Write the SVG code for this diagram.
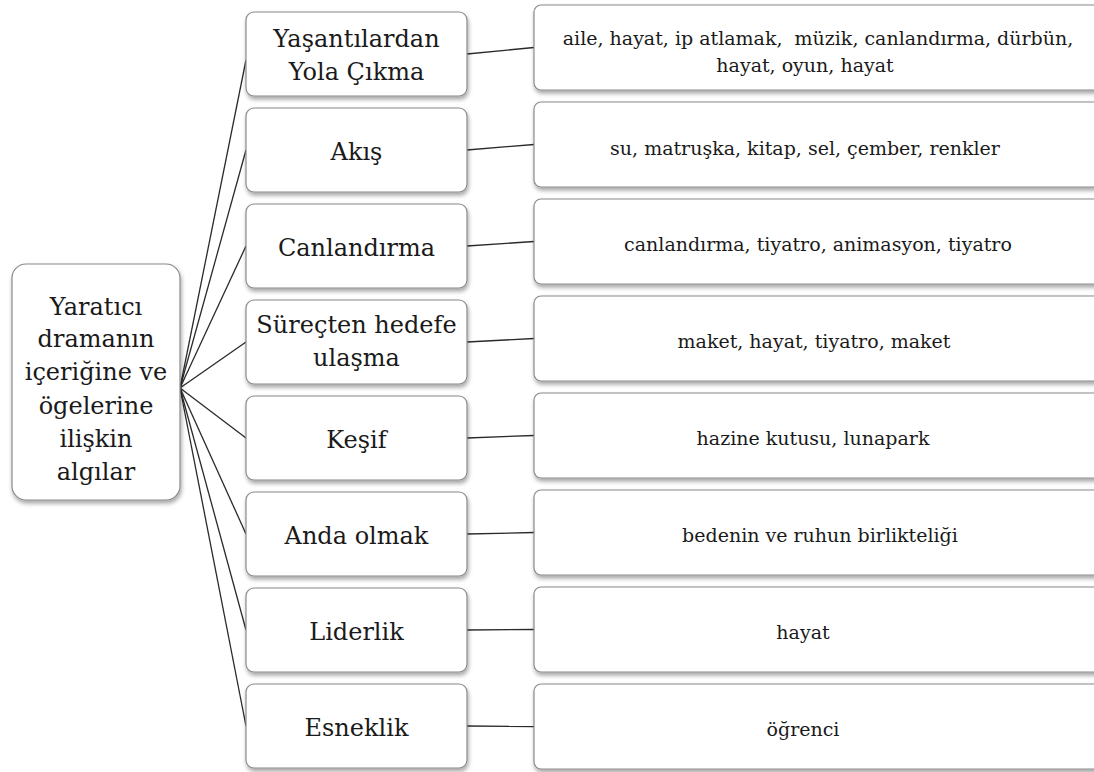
<svg xmlns="http://www.w3.org/2000/svg" width="1094" height="772" viewBox="0 0 1094 772">
<defs>
<filter id="sh" x="-5%" y="-10%" width="115%" height="130%">
<feDropShadow dx="1" dy="3" stdDeviation="2" flood-color="#000" flood-opacity="0.35"/>
</filter>
<style>
.box{fill:#fff;stroke:#8a8a8a;stroke-width:1.2;filter:url(#sh)}
.t{font-family:"DejaVu Serif","Liberation Serif",serif;fill:#1a1a1a;text-anchor:middle}
.m{font-size:24px}
.r{font-size:19px}
.c line{stroke:#2a2a2a;stroke-width:1.3}
</style>
</defs>
<rect width="1094" height="772" fill="#fff"/>
<g class="c">
<line x1="180" y1="388" x2="246" y2="60"/>
<line x1="180" y1="388" x2="246" y2="150"/>
<line x1="180" y1="388" x2="246" y2="246"/>
<line x1="180" y1="388" x2="246" y2="342"/>
<line x1="180" y1="388" x2="246" y2="438"/>
<line x1="180" y1="388" x2="246" y2="534"/>
<line x1="180" y1="388" x2="246" y2="630"/>
<line x1="180" y1="388" x2="246" y2="726"/>
<line x1="467" y1="54" x2="534" y2="47.5"/>
<line x1="467" y1="150" x2="534" y2="144.5"/>
<line x1="467" y1="246" x2="534" y2="241.5"/>
<line x1="467" y1="342" x2="534" y2="338.5"/>
<line x1="467" y1="438" x2="534" y2="435.5"/>
<line x1="467" y1="534" x2="534" y2="532.5"/>
<line x1="467" y1="630" x2="534" y2="629.5"/>
<line x1="467" y1="726" x2="534" y2="726.5"/>
</g>
<g id="root">
<rect class="box" x="12" y="264" width="168" height="236" rx="14"/>
<text class="t m"><tspan x="96" y="315">Yaratıcı</tspan><tspan x="96" y="347">dramanın</tspan><tspan x="96" y="380">içeriğine ve</tspan><tspan x="96" y="414">ögelerine</tspan><tspan x="96" y="447">ilişkin</tspan><tspan x="96" y="480">algılar</tspan></text>
</g>
<g id="n1"><rect class="box" x="246" y="12" width="221" height="84" rx="8"/><text class="t m"><tspan x="356.5" y="47">Yaşantılardan</tspan><tspan x="356.5" y="80">Yola Çıkma</tspan></text></g>
<g id="n2"><rect class="box" x="246" y="108" width="221" height="84" rx="8"/><text class="t m" x="356.5" y="160">Akış</text></g>
<g id="n3"><rect class="box" x="246" y="204" width="221" height="84" rx="8"/><text class="t m" x="356.5" y="256">Canlandırma</text></g>
<g id="n4"><rect class="box" x="246" y="300" width="221" height="84" rx="8"/><text class="t m"><tspan x="356.5" y="333">Süreçten hedefe</tspan><tspan x="356.5" y="366">ulaşma</tspan></text></g>
<g id="n5"><rect class="box" x="246" y="396" width="221" height="84" rx="8"/><text class="t m" x="356.5" y="448">Keşif</text></g>
<g id="n6"><rect class="box" x="246" y="492" width="221" height="84" rx="8"/><text class="t m" x="356.5" y="544">Anda olmak</text></g>
<g id="n7"><rect class="box" x="246" y="588" width="221" height="84" rx="8"/><text class="t m" x="356.5" y="640">Liderlik</text></g>
<g id="n8"><rect class="box" x="246" y="684" width="221" height="84" rx="8"/><text class="t m" x="356.5" y="736">Esneklik</text></g>
<g id="r1"><rect class="box" x="534" y="5" width="572" height="85" rx="7"/><text class="t r" xml:space="preserve"><tspan x="818" y="45">aile, hayat, ip atlamak,  müzik, canlandırma, dürbün,</tspan></text><text class="t r" x="805" y="72">hayat, oyun, hayat</text></g>
<g id="r2"><rect class="box" x="534" y="102" width="572" height="85" rx="7"/><text class="t r" x="805" y="155">su, matruşka, kitap, sel, çember, renkler</text></g>
<g id="r3"><rect class="box" x="534" y="199" width="572" height="85" rx="7"/><text class="t r" x="818" y="251">canlandırma, tiyatro, animasyon, tiyatro</text></g>
<g id="r4"><rect class="box" x="534" y="296" width="572" height="85" rx="7"/><text class="t r" x="814" y="348">maket, hayat, tiyatro, maket</text></g>
<g id="r5"><rect class="box" x="534" y="393" width="572" height="85" rx="7"/><text class="t r" x="813" y="445">hazine kutusu, lunapark</text></g>
<g id="r6"><rect class="box" x="534" y="490" width="572" height="85" rx="7"/><text class="t r" x="820" y="542">bedenin ve ruhun birlikteliği</text></g>
<g id="r7"><rect class="box" x="534" y="587" width="572" height="85" rx="7"/><text class="t r" x="803" y="639">hayat</text></g>
<g id="r8"><rect class="box" x="534" y="684" width="572" height="85" rx="7"/><text class="t r" x="803" y="736">öğrenci</text></g>
</svg>
